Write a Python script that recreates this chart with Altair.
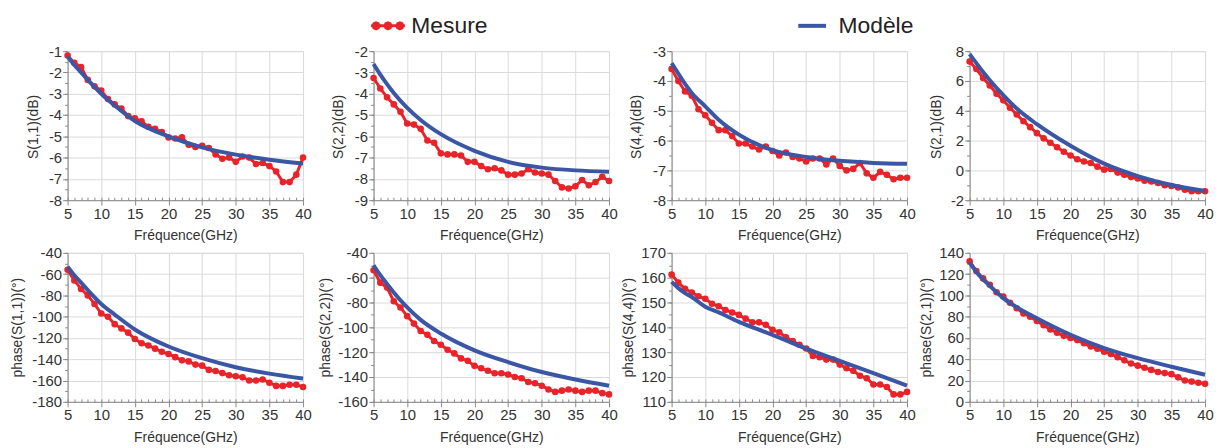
import math
import altair as alt
import pandas as pd

FONT = "Liberation Sans"
RED = "#E8232A"
BLUE = "#3A56A5"
AXC = "#8A8A8A"
GRID = "#DADADA"
TXT = "#333333"

# ---------------- data ----------------
freq = list(range(5, 41))
freq_model = [5, 6, 7, 8, 10, 12, 15, 20, 25, 30, 35, 40]

s11_mesure = [-1.2, -1.55, -1.75, -2.35, -2.65, -2.85, -3.25, -3.5, -3.7, -4.05, -4.15, -4.3,
              -4.55, -4.65, -4.8, -5.05, -5.1, -5.05, -5.4, -5.5, -5.45, -5.55, -5.85, -6.05,
              -6.0, -6.2, -5.95, -6.0, -6.3, -6.25, -6.4, -6.65, -7.15, -7.15, -6.8, -6.0]
s11_modele = [-1.25, -1.65, -2.0, -2.35, -3.0, -3.55, -4.28, -5.0, -5.52, -5.86, -6.1, -6.28]

s22_mesure = [-3.26, -3.75, -4.17, -4.5, -4.85, -5.4, -5.45, -5.65, -6.2, -6.3, -6.8, -6.85,
              -6.85, -6.9, -7.2, -7.2, -7.4, -7.55, -7.5, -7.6, -7.8, -7.8, -7.75, -7.55,
              -7.7, -7.75, -7.8, -8.1, -8.4, -8.45, -8.35, -8.05, -8.3, -8.15, -7.9, -8.1]
s22_modele = [-2.6, -3.1, -3.55, -3.96, -4.66, -5.23, -5.9, -6.68, -7.2, -7.47, -7.6, -7.66]

s44_mesure = [-3.6, -4.0, -4.35, -4.5, -4.95, -5.15, -5.4, -5.65, -5.65, -5.85, -6.1, -6.1,
              -6.2, -6.3, -6.2, -6.35, -6.5, -6.4, -6.55, -6.6, -6.7, -6.6, -6.6, -6.8,
              -6.6, -6.85, -7.0, -6.95, -6.75, -7.1, -7.25, -7.05, -7.15, -7.3, -7.25, -7.25]
s44_modele = [-3.4, -3.75, -4.1, -4.4, -4.85, -5.3, -5.8, -6.32, -6.55, -6.68, -6.75, -6.78]

s21_mesure = [7.3, 6.8, 6.2, 5.7, 5.15, 4.7, 4.2, 3.75, 3.3, 2.9, 2.5, 2.15,
              1.85, 1.55, 1.25, 1.0, 0.75, 0.6, 0.5, 0.25, 0.05, 0.1, -0.15, -0.3,
              -0.45, -0.55, -0.7, -0.75, -0.85, -1.0, -1.05, -1.15, -1.3, -1.4, -1.4, -1.4]
s21_modele = [7.8, 7.2, 6.6, 6.05, 5.05, 4.15, 3.1, 1.65, 0.45, -0.38, -0.98, -1.38]

p11_mesure = [-56, -66, -74, -80, -88, -97, -100, -107, -111, -115, -121, -125,
              -127, -130, -133, -135, -138, -141, -142, -145, -146, -150, -151, -153,
              -155, -156, -157, -160, -160, -159, -162, -165, -165, -164, -164, -166]
p11_modele = [-53, -61, -68, -75, -88, -98, -112, -128, -139, -147.5, -153.5, -158]

p22_mesure = [-54, -64, -68, -79, -84, -91, -97, -103, -106, -111, -114, -118,
              -121, -125, -127, -131, -133, -135, -137, -137, -138, -140, -141, -144,
              -145, -147, -150, -152, -151, -150, -151, -152, -151, -151, -153, -154]
p22_modele = [-50, -58, -65, -72, -84, -94, -105, -118.5, -128, -136, -142, -147]

p44_mesure = [161.3, 158, 155.5, 154, 152.5, 151.5, 149.5, 148.5, 147, 146, 145, 143.5,
              142, 142, 141, 139, 138, 136, 134.5, 133, 131.5, 128.5, 128, 127,
              127, 125, 123.5, 122.5, 120.5, 119.5, 117, 117, 116, 113, 113, 114]
p44_modele = [158.3, 155.8, 153.8, 152.2, 148.3, 146, 142.2, 137, 131.4, 126.5, 121.6, 116.5]

p21_mesure = [132, 123, 116, 110, 103, 99, 93, 88, 83, 80, 76, 72,
              68, 65, 62, 60, 58, 55, 52, 50, 47, 45, 42, 39,
              36, 34, 32, 30, 28, 27, 26, 23, 20, 19, 18, 17]
p21_modele = [131, 122, 115, 109, 97.5, 89, 78.5, 63, 50.5, 41, 33, 25.5]

titles = ["S(1,1)(dB)", "S(2,2)(dB)", "S(4,4)(dB)", "S(2,1)(dB)",
          "phase(S(1,1))(°)", "phase(S(2,2))(°)", "phase(S(4,4))(°)", "phase(S(2,1))(°)"]
y_domains = [[-8, -1], [-9, -2], [-8, -3], [-2, 8],
             [-180, -40], [-160, -40], [110, 170], [0, 140]]
y_steps = [1, 1, 1, 2, 20, 20, 10, 20]
series = [(s11_mesure, s11_modele), (s22_mesure, s22_modele), (s44_mesure, s44_modele),
          (s21_mesure, s21_modele), (p11_mesure, p11_modele), (p22_mesure, p22_modele),
          (p44_mesure, p44_modele), (p21_mesure, p21_modele)]
title_x = [-34, -35, -35, -33, -50, -48, -43, -43]
title_y = [108, 108, 108, 108, 125, 125, 125, 125]

# ---------------- legend symbols ----------------
def octagon(cx, r):
    pts = []
    for k in range(8):
        a = k * math.pi / 4
        pts.append("%.3f,%.3f" % (cx + r * math.cos(a), r * math.sin(a)))
    return "M" + "L".join(pts) + "Z"

MES_PATH = "M-3.4,0L3.4,0" + "".join(octagon(c, 0.6) for c in (-2.4, 0, 2.4))
MOD_PATH = "M-2.8,0L2.8,0"

leg_mes = alt.Legend(title=None, orient="none", legendX=311, legendY=-37,
                     symbolType=MES_PATH, symbolSize=100, symbolStrokeWidth=3,
                     symbolFillColor=RED, symbolStrokeColor=RED,
                     labelFont=FONT, labelFontSize=23, labelColor="#222222",
                     labelOffset=12, padding=0)
leg_mod = alt.Legend(title=None, orient="none", legendX=738, legendY=-37,
                     symbolType=MOD_PATH, symbolSize=100, symbolStrokeWidth=4,
                     symbolStrokeColor=BLUE,
                     labelFont=FONT, labelFontSize=23, labelColor="#222222",
                     labelOffset=15, padding=0)

col_scale = alt.Scale(domain=["Mesure"], range=[RED])
str_scale = alt.Scale(domain=["Modèle"], range=[BLUE])

PLAIN = "'' + datum.value"


def vals(lo, hi, step):
    n = int(round((hi - lo) / step))
    return [round(lo + i * step, 6) for i in range(n + 1)]


def panel(i):
    mes, mod = series[i]
    lo, hi = y_domains[i]
    st = y_steps[i]
    d_mes = pd.DataFrame({"f": freq, "v": mes, "s": "Mesure"})
    d_mod = pd.DataFrame({"f": freq_model, "v": mod, "m": "Modèle"})
    xs = alt.Scale(domain=[5, 40], nice=False, zero=False)
    ys = alt.Scale(domain=[lo, hi], nice=False, zero=False)

    x_major = alt.Axis(orient="bottom", values=vals(5, 40, 5), grid=True, gridColor=GRID,
                       gridWidth=1, domainColor=AXC, tickColor=AXC, tickSize=5,
                       labelFont=FONT, labelFontSize=15, labelColor=TXT, labelPadding=1,
                       labelFlush=False, labelOverlap=False, labelExpr=PLAIN,
                       title="Fréquence(GHz)", titleFont=FONT, titleFontSize=14,
                       titleFontWeight="normal", titleColor=TXT, titleY=36,
                       titleBaseline="middle")
    x_minor = alt.Axis(orient="bottom", values=vals(5, 40, 1), grid=False, domain=False,
                       labels=False, tickColor=AXC, tickSize=3, offset=-3, title=None)
    y_major = alt.Axis(orient="left", values=vals(lo, hi, st), grid=True, gridColor=GRID,
                       gridWidth=1, domainColor=AXC, tickColor=AXC, tickSize=5,
                       labelFont=FONT, labelFontSize=15, labelColor=TXT, labelPadding=1,
                       labelOverlap=False, labelExpr=PLAIN,
                       title=titles[i], titleFont=FONT, titleFontSize=14,
                       titleFontWeight="normal", titleColor=TXT, titleAngle=270,
                       titleX=title_x[i], titleY=title_y[i], titleAlign="left",
                       titleBaseline="middle")
    y_minor = alt.Axis(orient="left", values=vals(lo, hi, st / 2.0), grid=False, domain=False,
                       labels=False, tickColor=AXC, tickSize=3, title=None)

    line_m = alt.Chart(d_mes).mark_line(strokeWidth=3).encode(
        x=alt.X("f:Q", scale=xs, axis=x_minor),
        y=alt.Y("v:Q", scale=ys, axis=y_minor),
        color=alt.Color("s:N", scale=col_scale, legend=leg_mes),
    )
    pts_m = alt.Chart(d_mes).mark_point(filled=True, size=44, opacity=1).encode(
        x=alt.X("f:Q", scale=xs, axis=None),
        y=alt.Y("v:Q", scale=ys, axis=None),
        color=alt.Color("s:N", scale=col_scale, legend=leg_mes),
    )
    line_o = alt.Chart(d_mod).mark_line(strokeWidth=4, interpolate="monotone").encode(
        x=alt.X("f:Q", scale=xs, axis=x_major),
        y=alt.Y("v:Q", scale=ys, axis=y_major),
        stroke=alt.Stroke("m:N", scale=str_scale, legend=leg_mod),
    )
    return alt.layer(line_m, pts_m, line_o).resolve_axis(
        x="independent", y="independent").properties(width=237, height=150)


panels = [panel(i) for i in range(8)]


def row(a, b, c, d):
    rest = alt.hconcat(b, c, d, spacing=63, bounds="flush")
    return alt.hconcat(a, rest, spacing=71, bounds="flush")


row1 = row(*panels[0:4])
row2 = row(*panels[4:8])

chart = alt.vconcat(row1, row2, spacing=1).properties(
    padding={"left": 2, "top": 5, "right": 0, "bottom": 0}
).configure_view(stroke=None).configure(font=FONT)

chart.save("out.html", embed_options={"renderer": "svg", "actions": False})
